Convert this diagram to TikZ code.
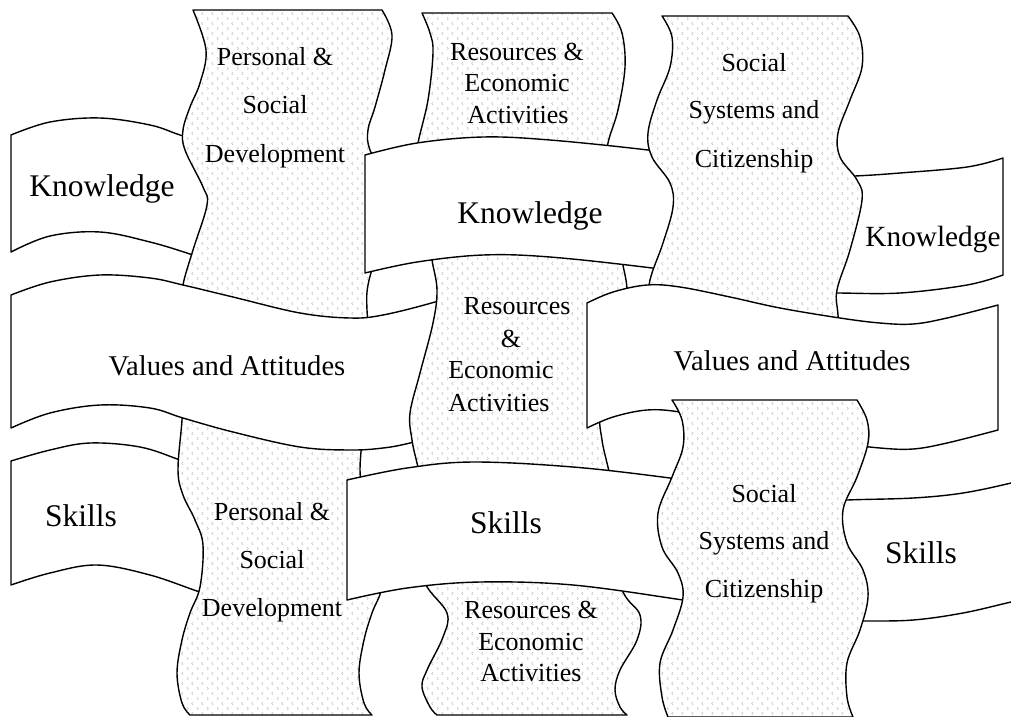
\documentclass[tikz,border=0pt]{standalone}
\usepackage{fontspec}
\setmainfont{Liberation Serif}
\usetikzlibrary{patterns}
\pgfdeclarepatternformonly{chev}{\pgfqpoint{-1pt}{-1pt}}{\pgfqpoint{11pt}{11pt}}{\pgfqpoint{10pt}{10pt}}{%
  \pgfsetlinewidth{0.45pt}%
  \pgfpathmoveto{\pgfqpoint{3pt}{1.2pt}}\pgfpathlineto{\pgfqpoint{1.6pt}{2.5pt}}\pgfpathlineto{\pgfqpoint{3pt}{3.8pt}}%
  \pgfpathmoveto{\pgfqpoint{7pt}{6.2pt}}\pgfpathlineto{\pgfqpoint{8.4pt}{7.5pt}}\pgfpathlineto{\pgfqpoint{7pt}{8.8pt}}%
  \pgfusepath{stroke}}
\tikzset{
  col/.style={draw=black, line width=1.4pt, line join=round, preaction={fill=white}, pattern=chev, pattern color=gray!60},
  band/.style={draw=black, line width=1.4pt, line join=round, fill=white},
  sm/.style={smooth, tension=0.6},
  coltext/.style={font=\fontsize{26}{26}\selectfont, anchor=base, inner sep=0pt},
  bigtext/.style={font=\fontsize{31.5}{31.5}\selectfont, anchor=base, inner sep=0pt},
  vatext/.style={font=\fontsize{28.6}{28.6}\selectfont, anchor=base, inner sep=0pt},
}
\begin{document}
\begin{tikzpicture}[x=1pt, y=-1pt]
\useasboundingbox (0,0) rectangle (1011,716);

% H1 Knowledge left
\draw[band] (11,252) -- (11,135) -- plot[sm] coordinates {(11,135) (50,122) (100,118) (150,125) (180,135) (220,148) (260,160)}
  -- (260,278) -- plot[sm] coordinates {(260,278) (230,268) (193,255) (150,242) (100,232) (50,236) (11,252)} -- cycle;
% H6 Skills left
\draw[band] (11,585) -- (11,461) -- plot[sm] coordinates {(11,461) (50,450) (90,443) (140,447) (180,460) (220,475) (260,487)}
  -- (260,607) -- plot[sm] coordinates {(260,607) (230,600) (200,592) (150,575) (97,565) (50,573) (11,585)} -- cycle;

% V1 Personal top
\draw[col] (193,10) -- (382,10) -- plot[sm] coordinates {(382,10) (392,35) (385,70) (375,107) (368,130) (370,150) (388,187) (392,205) (378,250) (368,285) (367,310) (370,340)}
  -- (185,340) -- plot[sm] coordinates {(185,340) (182,310) (183,285) (193,250) (207,205) (203,187) (185,150) (183,130) (190,107) (200,83) (206,50) (193,10)} -- cycle;
% V2 Personal bottom
\draw[col] (185,370) -- (367,370) -- plot[sm] coordinates {(367,370) (364,420) (360,470) (365,495) (377,520) (385,545) (382,587) (372,613) (364,640) (359,673) (364,703) (372,715)}
  -- (190,715) -- plot[sm] coordinates {(190,715) (182,703) (177,673) (182,640) (190,613) (200,587) (203,545) (195,520) (183,495) (178,470) (182,420) (185,370)} -- cycle;
% V3 Resources top
\draw[col] (422,13) -- (612,13) -- plot[sm] coordinates {(612,13) (622,33) (625,67) (618,110) (608,143) (606,170) (607,200)}
  -- (416,200) -- plot[sm] coordinates {(416,200) (415,170) (418,143) (428,100) (433,53) (430,33) (422,13)} -- cycle;
% V5 Resources bottom
\draw[col] (415,540) -- (605,540) -- plot[sm] coordinates {(605,540) (623,592) (640,615) (637,640) (620,670) (615,690) (620,707) (627,715)}
  -- (437,715) -- plot[sm] coordinates {(437,715) (430,707) (422,687) (427,670) (443,637) (447,613) (425,583) (415,540)} -- cycle;

% H4 Values and Attitudes left
\draw[band] (11,428) -- (11,295) -- plot[sm] coordinates {(11,295) (50,282) (100,275) (150,278) (183,285) (233,297) (300,313) (350,318) (383,315) (435,302) (470,290) (500,282)}
  -- (500,420) -- plot[sm] coordinates {(500,420) (460,430) (410,443) (383,448) (350,450) (300,447) (233,432) (183,418) (150,408) (100,405) (50,413) (11,428)} -- cycle;

% V4 Resources middle
\draw[col] (430,200) -- (620,200) -- plot[sm] coordinates {(620,200) (620,240) (622,260) (627,290) (623,323) (610,373) (600,413) (602,440) (607,463) (615,495) (620,530)}
  -- (430,530) -- plot[sm] coordinates {(430,530) (425,495) (417,463) (412,440) (410,413) (420,373) (433,323) (437,290) (432,260) (430,240) (430,200)} -- cycle;

% H2 Knowledge middle
\draw[band] (365,273) -- (365,155) -- plot[sm] coordinates {(365,155) (417,143) (483,137) (550,140) (648,150) (700,158) (750,166)}
  -- (750,284) -- plot[sm] coordinates {(750,284) (700,276) (652,268) (550,257) (483,255) (417,262) (365,273)} -- cycle;
% H3 Knowledge right
\draw[band] (760,292) -- (760,179) -- plot[sm] coordinates {(760,179) (800,178) (855,176) (900,173) (967,167) (1003,158)}
  -- (1003,275) -- plot[sm] coordinates {(1003,275) (967,285) (900,293) (837,293) (800,293) (760,292)} -- cycle;
% H7 Skills middle
\draw[band] (347,600) -- (347,480) -- plot[sm] coordinates {(347,480) (407,468) (473,462) (573,467) (670,478) (720,486) (760,492)}
  -- (760,612) -- plot[sm] coordinates {(760,612) (720,606) (683,600) (573,585) (480,582) (407,588) (347,600)} -- cycle;

% V6 Social top
\draw[col] (662,16) -- (848,16) -- plot[sm] coordinates {(848,16) (860,37) (862,67) (850,100) (838,133) (840,157) (857,180) (862,200) (850,250) (837,290) (838,315) (843,370)}
  -- (655,370) -- plot[sm] coordinates {(655,370) (650,340) (648,310) (650,280) (663,243) (673,207) (670,183) (652,157) (648,133) (657,100) (670,67) (672,37) (662,16)} -- cycle;

% H5 Values and Attitudes right
\draw[band] (587,428) -- (587,303) -- plot[sm] coordinates {(587,303) (613,292) (647,285) (680,287) (730,297) (780,308) (840,318) (880,323) (913,324) (947,318) (998,305)}
  -- (998,430) -- plot[sm] coordinates {(998,430) (947,443) (913,449) (880,448) (840,443) (780,433) (730,422) (680,412) (647,410) (613,417) (587,428)} -- cycle;
% H8 Skills right
\draw[band] (760,621) -- (760,510) -- plot[sm] coordinates {(760,510) (800,503) (847,500) (913,498) (963,493) (1011,483) (1030,477)}
  -- (1030,598) -- plot[sm] coordinates {(1030,598) (1011,602) (963,613) (913,620) (863,621) (800,621) (760,621)} -- cycle;

% V7 Social bottom
\draw[col] (672,400) -- (857,400) -- plot[sm] coordinates {(857,400) (867,420) (868,443) (857,477) (843,510) (847,543) (863,570) (868,597) (860,630) (847,663) (847,697) (853,717)}
  -- (668,717) -- plot[sm] coordinates {(668,717) (662,697) (660,663) (673,630) (683,597) (678,573) (662,547) (658,513) (672,477) (683,447) (682,420) (672,400)} -- cycle;

% texts
\node[bigtext] (tk1) at (102,196) {Knowledge};
\node[bigtext] (tk2) at (530,223) {Knowledge};
\node[font=\fontsize{29.3}{29.3}\selectfont, anchor=base, inner sep=0pt] (tk3) at (933,246) {Knowledge};
\node[vatext] (tv1) at (227,375) {Values and Attitudes};
\node[vatext] (tv2) at (792,370) {Values and Attitudes};
\node[bigtext] (ts1) at (81,526) {Skills};
\node[bigtext] (ts2) at (506,533) {Skills};
\node[bigtext] (ts3) at (921,563) {Skills};

\node[coltext] (p1a) at (275,65) {Personal \&};
\node[coltext] (p1b) at (275,113) {Social};
\node[coltext] (p1c) at (275,162) {Development};
\node[coltext] (r1a) at (517,60) {Resources \&};
\node[coltext] (r1b) at (517,91) {Economic};
\node[coltext] (r1c) at (518,123) {Activities};
\node[coltext] (s1a) at (754,71) {Social};
\node[coltext] (s1b) at (754,118) {Systems and};
\node[coltext] (s1c) at (754,167) {Citizenship};
\node[coltext] (r2a) at (517,314) {Resources};
\node[coltext] (r2b) at (511,347) {\&};
\node[coltext] (r2c) at (501,378) {Economic};
\node[coltext] (r2d) at (499,411) {Activities};
\node[coltext] (p2a) at (272,520) {Personal \&};
\node[coltext] (p2b) at (272,568) {Social};
\node[coltext] (p2c) at (272,616) {Development};
\node[coltext] (r3a) at (531,618) {Resources \&};
\node[coltext] (r3b) at (531,650) {Economic};
\node[coltext] (r3c) at (531,681) {Activities};
\node[coltext] (s2a) at (764,502) {Social};
\node[coltext] (s2b) at (764,549) {Systems and};
\node[coltext] (s2c) at (764,597) {Citizenship};
\end{tikzpicture}
\end{document}
